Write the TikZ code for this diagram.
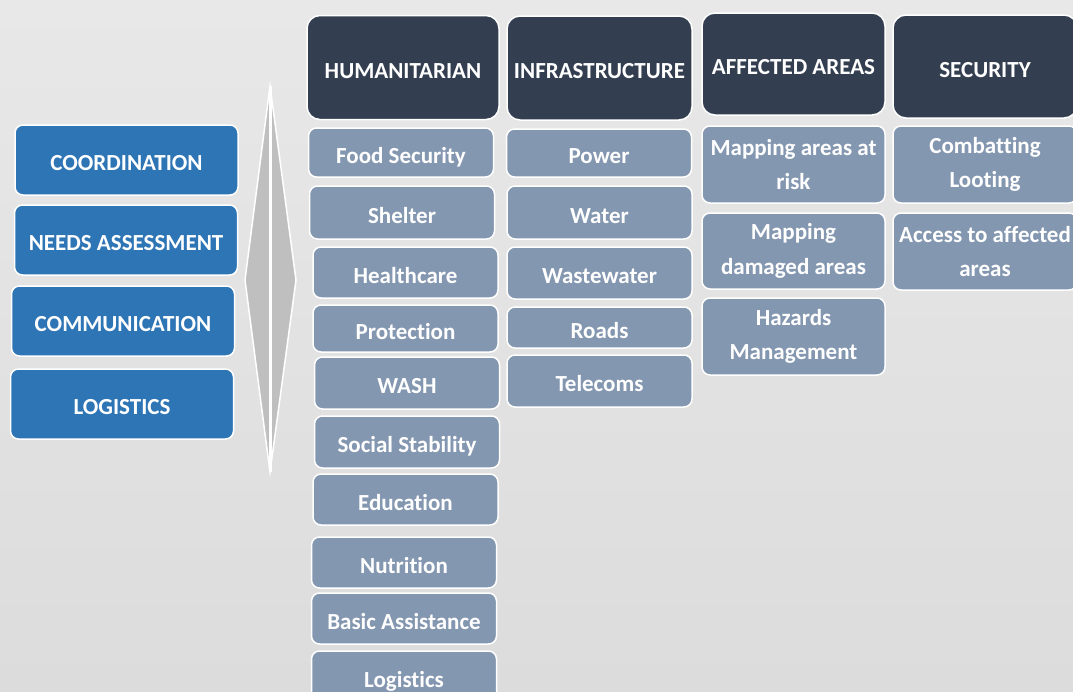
\documentclass[tikz,border=0pt]{standalone}
\usepackage{fontspec}
\setmainfont{Carlito}[Ligatures=NoCommon]
\usetikzlibrary{positioning}
\definecolor{bgtop}{HTML}{E8E8E8}
\definecolor{bgbottom}{HTML}{DCDCDC}
\definecolor{leftblue}{HTML}{2E75B6}
\definecolor{headnavy}{HTML}{333F50}
\definecolor{itemslate}{HTML}{8497B0}
\definecolor{arrowgray}{HTML}{BFBFBF}

\begin{document}
\begin{tikzpicture}[x=1pt, y=-1pt,
	every node/.append style={rounded corners=8pt,
		draw=white, line width=1.5pt, text=white,
		font=\fontsize{23}{34.5}\selectfont\bfseries,
		align=center, inner sep=0pt},
	oneline/.style={text height=21pt, text depth=0pt},
	leftbox/.style={oneline, fill=leftblue, minimum width=223pt, minimum height=70pt},
	headbox/.style={oneline, fill=headnavy, rounded corners=13pt, minimum width=186pt, minimum height=104pt},
	itembox/.style={oneline, fill=itemslate, minimum width=185pt, minimum height=51pt},
	twobox/.style={fill=itemslate, minimum width=185pt, minimum height=77pt}]

	\useasboundingbox (0,0) rectangle (1073,691);
	\clip (0,0) rectangle (1073,691);
	\fill[top color=bgtop, bottom color=bgbottom] (0,0) rectangle (1073,691);

	\node[leftbox] at (126.5, 160) (coord){COORDINATION};
	\node[leftbox] at (126, 240) (needs){NEEDS ASSESSMENT};
	\node[leftbox] at (123, 321) (comm){COMMUNICATION};
	\node[leftbox] at (122, 404) (logi){LOGISTICS};

	\coordinate (arTop) at (270, 86);
	\coordinate (arRight) at (296, 280);
	\coordinate (arBot) at (270, 472);
	\coordinate (arLeft) at (245, 280);
	\draw[fill=arrowgray, draw=white, line width=1.5pt] (arTop) -- (arRight) -- (arBot) -- (arLeft) -- cycle;
	\draw[white, line width=3pt] (arTop) -- (arBot);

	\node[headbox, minimum width=192pt] at (403, 67.5) (hum){HUMANITARIAN};
	\node[headbox, minimum width=185pt] at (599.5, 68) (infra){INFRASTRUCTURE};
	\node[headbox, minimum width=183pt, minimum height=102pt] at (793.5, 64) (areas){AFFECTED AREAS};
	\node[headbox, minimum width=184pt, minimum height=103pt] at (985, 66.5) (sec){SECURITY};

	\node[itembox, minimum height=49pt] at (401, 152.5) (hum1){Food Security};
	\node[itembox, minimum height=53pt] at (402, 212.5) (hum2){Shelter};
	\node[itembox] at (405.5, 272.5) (hum3){Healthcare};
	\node[itembox, minimum height=47pt] at (405.5, 328.5) (hum4){Protection};
	\node[itembox, minimum height=52pt] at (407, 383) (hum5){WASH};
	\node[itembox, minimum height=52pt] at (407, 442) (hum6){Social Stability};
	\node[itembox] at (405.5, 499.5) (hum7){Education};
	\node[itembox] at (404, 562.5) (hum8){Nutrition};
	\node[itembox] at (404, 618.5) (hum9){Basic Assistance};
	\node[itembox] at (404, 676.5) (hum10){Logistics};

	\node[itembox, minimum height=48pt] at (599, 153) (infra1){Power};
	\node[itembox, minimum height=53pt] at (599.5, 212.5) (infra2){Water};
	\node[itembox, minimum height=52pt] at (599.5, 273) (infra3){Wastewater};
	\node[itembox, minimum height=41pt] at (599.5, 327.5) (infra4){Roads};
	\node[itembox, minimum height=52pt] at (599.5, 381) (infra5){Telecoms};

	\node[twobox, minimum width=183pt] at (793.5, 164.5) (areas1){Mapping areas at\\risk};
	\node[twobox, minimum width=183pt, minimum height=76pt] at (793.5, 251) (areas2){Mapping\\damaged areas};
	\node[twobox, minimum width=183pt] at (793.5, 336.5) (areas3){Hazards\\Management};

	\node[twobox, minimum width=184pt] at (985, 164.5) (sec1){Combatting\\Looting};
	\node[twobox, minimum width=184pt] at (985, 251.5) (sec2){Access to affected\\areas};
\end{tikzpicture}
\end{document}
